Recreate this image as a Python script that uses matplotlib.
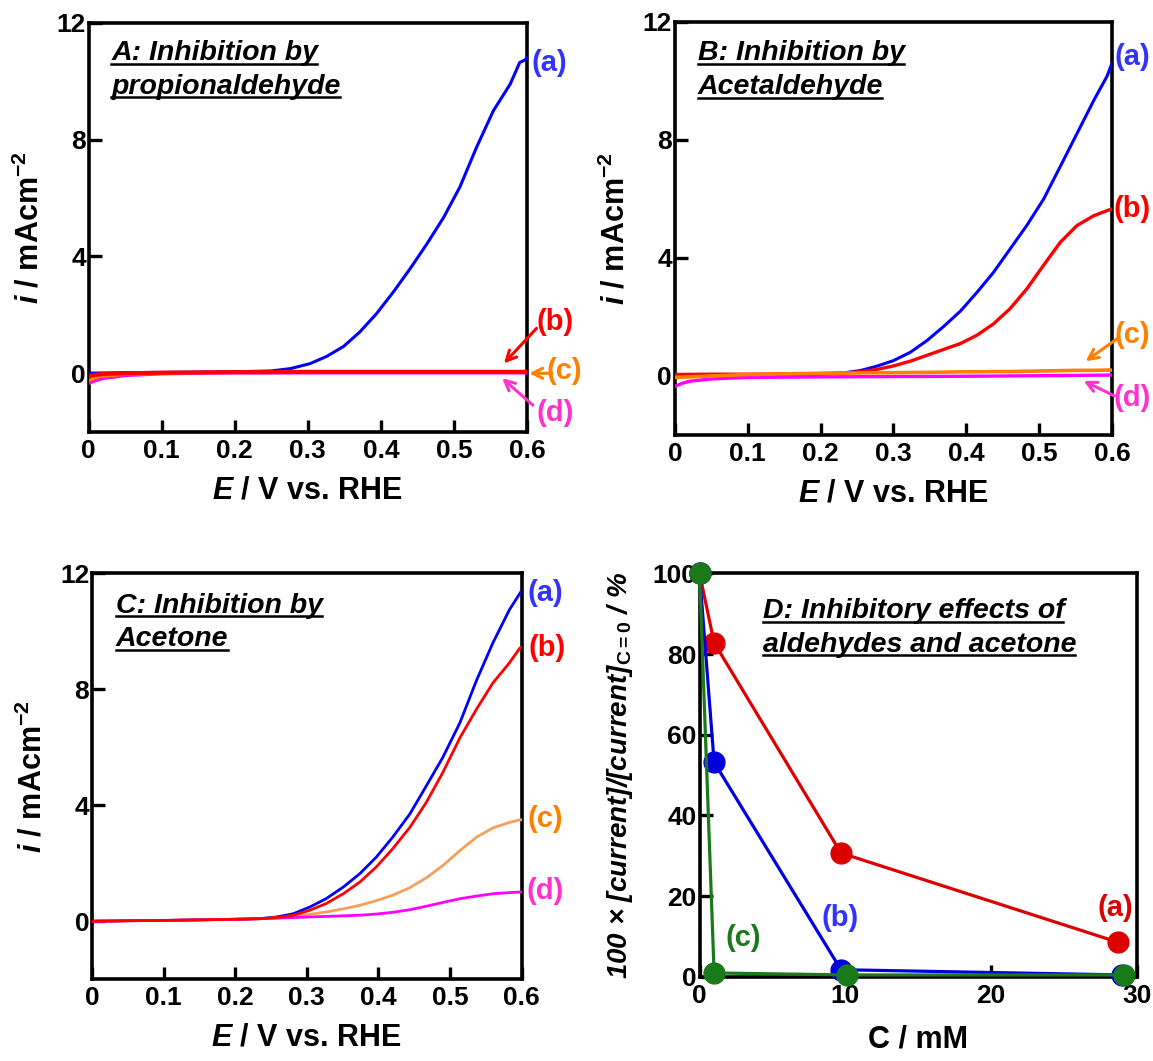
import matplotlib
matplotlib.use("Agg")
import matplotlib.pyplot as plt
from matplotlib.lines import Line2D

plt.rcParams['font.family'] = ['Liberation Sans', 'DejaVu Sans']
plt.rcParams['font.weight'] = 'bold'
plt.rcParams['axes.labelweight'] = 'bold'
plt.rcParams['mathtext.fontset'] = 'custom'
plt.rcParams['mathtext.rm'] = 'Liberation Sans:bold'
plt.rcParams['mathtext.it'] = 'Liberation Sans:italic:bold'
plt.rcParams['mathtext.bf'] = 'Liberation Sans:bold'

# ---------------- data ----------------
# Panel A: inhibition by propionaldehyde
E_flat = [0.0, 0.01, 0.02, 0.05, 0.1, 0.15, 0.2, 0.25, 0.3, 0.35, 0.4, 0.45, 0.5, 0.55, 0.6]
A_b = [-0.1, -0.05, -0.02, 0.0, 0.02, 0.03, 0.04, 0.04, 0.05, 0.05, 0.05, 0.05, 0.05, 0.05, 0.05]
A_c = [-0.25, -0.15, -0.1, -0.04, 0.0, 0.02, 0.03, 0.03, 0.04, 0.04, 0.04, 0.04, 0.04, 0.04, 0.04]
A_d = [-0.35, -0.25, -0.18, -0.08, -0.02, 0.0, 0.01, 0.01, 0.01, 0.01, 0.01, 0.01, 0.01, 0.01, 0.01]
E_A_a = [0.0, 0.05, 0.1, 0.15, 0.2, 0.25, 0.276, 0.303, 0.326, 0.349, 0.371, 0.394, 0.417,
         0.44, 0.463, 0.486, 0.508, 0.531, 0.554, 0.577, 0.59, 0.597, 0.6]
A_a = [0.0, 0.02, 0.03, 0.04, 0.05, 0.08, 0.16, 0.33, 0.58, 0.92, 1.41, 2.04, 2.78,
       3.58, 4.43, 5.34, 6.37, 7.74, 8.99, 9.9, 10.64, 10.72, 10.8]

# Panel B: inhibition by acetaldehyde
E_B = [0.0, 0.05, 0.1, 0.15, 0.2, 0.23, 0.254, 0.277, 0.3, 0.323, 0.346, 0.369, 0.392,
       0.4145, 0.437, 0.46, 0.483, 0.506, 0.529, 0.552, 0.575, 0.593, 0.6]
B_a = [0.0, 0.02, 0.03, 0.04, 0.06, 0.1, 0.18, 0.33, 0.52, 0.8, 1.2, 1.68, 2.2,
       2.83, 3.5, 4.3, 5.1, 5.99, 7.1, 8.22, 9.34, 10.15, 10.6]
B_b = [0.05, 0.06, 0.06, 0.07, 0.08, 0.1, 0.14, 0.22, 0.34, 0.5, 0.7, 0.9, 1.1,
       1.38, 1.76, 2.28, 2.95, 3.75, 4.53, 5.1, 5.43, 5.6, 5.66]
B_c = [-0.05, 0.0, 0.05, 0.07, 0.09, 0.1, 0.1, 0.11, 0.11, 0.12, 0.12, 0.13, 0.14,
       0.14, 0.15, 0.15, 0.16, 0.17, 0.18, 0.19, 0.19, 0.2, 0.2]
E_B_d = [0.0, 0.01, 0.02, 0.05, 0.1, 0.2, 0.3, 0.4, 0.5, 0.6]
B_d = [-0.35, -0.25, -0.18, -0.1, -0.05, -0.03, -0.02, -0.01, 0.01, 0.03]

# Panel C: inhibition by acetone
E_C = [0.0, 0.05, 0.1, 0.15, 0.2, 0.234, 0.258, 0.281, 0.304, 0.327, 0.351, 0.374, 0.397,
       0.42, 0.444, 0.467, 0.49, 0.514, 0.537, 0.56, 0.583, 0.598, 0.6]
C_a = [0.0, 0.02, 0.03, 0.05, 0.07, 0.09, 0.15, 0.26, 0.49, 0.78, 1.18, 1.64, 2.21,
       2.9, 3.7, 4.67, 5.65, 6.85, 8.3, 9.6, 10.74, 11.32, 11.4]
C_b = [0.0, 0.02, 0.03, 0.05, 0.07, 0.09, 0.13, 0.21, 0.38, 0.61, 0.95, 1.35, 1.87,
       2.5, 3.24, 4.1, 5.13, 6.33, 7.31, 8.22, 8.91, 9.43, 9.46]
C_c = [0.0, 0.02, 0.03, 0.05, 0.07, 0.09, 0.12, 0.17, 0.24, 0.32, 0.43, 0.55, 0.71,
       0.9, 1.16, 1.5, 1.92, 2.44, 2.9, 3.22, 3.41, 3.5, 3.5]
C_d = [0.0, 0.02, 0.03, 0.05, 0.07, 0.09, 0.11, 0.13, 0.15, 0.17, 0.19, 0.21, 0.25,
       0.31, 0.4, 0.52, 0.65, 0.78, 0.87, 0.95, 0.99, 1.01, 1.01]

# Panel D: inhibitory effects (a) acetone, (b) acetaldehyde, (c) propionaldehyde
D_a_C = [0, 1, 9.7, 28.7]
D_a_v = [100, 82.8, 30.7, 8.6]
D_b_C = [0, 1, 9.7, 29.0]
D_b_v = [100, 53.2, 1.8, 0.5]
D_c_C = [0, 1, 10.1, 29.1]
D_c_v = [100, 1.0, 0.5, 0.5]

x_ticks = [0, 0.1, 0.2, 0.3, 0.4, 0.5, 0.6]
x_ticklabels = ['0', '0.1', '0.2', '0.3', '0.4', '0.5', '0.6']
y_ticks = [0, 4, 8, 12]
D_x_ticks = [0, 10, 20, 30]
D_y_ticks = [0, 20, 40, 60, 80, 100]

BLUE = '#0000FF'
RED = '#FF0000'
ORANGE = '#FF8000'
ORANGE_C = '#F4A05A'
MAGENTA = '#FF00FF'
LBL_BLUE = '#3333FF'
LBL_PINK = '#FF33CC'
D_RED = '#DD0000'
D_BLUE = '#0000DD'
D_GREEN = '#1A7A1A'

fig = plt.figure(figsize=(11.53, 10.61), dpi=100)

axA = fig.add_axes([0.0768, 0.5931, 0.3803, 0.3855])
axB = fig.add_axes([0.5853, 0.5900, 0.3792, 0.3895])
axC = fig.add_axes([0.0798, 0.0770, 0.3725, 0.3826])
axD = fig.add_axes([0.6067, 0.0792, 0.3794, 0.3805])

TICKFS = 19
LABELFS = 22


def style(ax):
    for sp in ax.spines.values():
        sp.set_linewidth(2.6)
    ax.tick_params(direction='in', length=9, width=2.4, labelsize=TICKFS,
                   top=False, right=False)
    ax.tick_params(axis='y', pad=2)
    ax.tick_params(axis='x', pad=5)
    for lab in ax.get_xticklabels() + ax.get_yticklabels():
        lab.set_fontweight('bold')


def cv_axes(ax):
    ax.set_xlim(0, 0.6)
    ax.set_ylim(-2, 12)
    ax.set_xticks(x_ticks)
    ax.set_xticklabels(x_ticklabels)
    ax.set_yticks(y_ticks)
    ax.set_xlabel(r'$E$ / V vs. RHE', fontsize=LABELFS, labelpad=9)
    ax.set_ylabel(r'$i$ / mAcm$^{\mathrm{-2}}$', fontsize=LABELFS, labelpad=8)
    style(ax)


# Panel A
axA.plot(E_flat, A_d, color=MAGENTA, lw=2.2, zorder=3)
axA.plot(E_flat, A_c, color=ORANGE, lw=2.2, zorder=3)
axA.plot(E_A_a, A_a, color=BLUE, lw=2.2, zorder=3)
axA.plot(E_flat, A_b, color=RED, lw=3.0, zorder=4)
cv_axes(axA)

# Panel B
axB.plot(E_B, B_a, color=BLUE, lw=2.2, zorder=3)
axB.plot(E_B, B_b, color=RED, lw=2.4, zorder=3)
axB.plot(E_B_d, B_d, color=MAGENTA, lw=2.4, zorder=3)
axB.plot(E_B, B_c, color=ORANGE, lw=2.6, zorder=3)
cv_axes(axB)

# Panel C
axC.plot(E_C, C_a, color=BLUE, lw=2.0, zorder=3)
axC.plot(E_C, C_c, color=ORANGE_C, lw=2.0, zorder=3)
axC.plot(E_C, C_d, color=MAGENTA, lw=2.0, zorder=3)
axC.plot(E_C, C_b, color=RED, lw=2.0, zorder=3)
cv_axes(axC)

# Panel D
MS = 15
axD.plot(D_a_C, D_a_v, '-o', color=D_RED, lw=2.3, ms=MS, clip_on=False, zorder=5)
axD.plot(D_b_C, D_b_v, '-o', color=D_BLUE, lw=2.3, ms=MS, clip_on=False, zorder=6)
axD.plot(D_c_C, D_c_v, '-o', color=D_GREEN, lw=2.3, ms=MS, clip_on=False, zorder=7)
axD.set_xlim(0, 30)
axD.set_ylim(0, 100)
axD.set_xticks(D_x_ticks)
axD.set_yticks(D_y_ticks)
axD.set_xlabel('C / mM', fontsize=LABELFS, labelpad=12)
axD.set_ylabel(r'100 × [current]/[current]$_{\mathrm{C{=}0}}$ / %', fontsize=20,
               fontstyle='italic', labelpad=13)
style(axD)

# ---- curve labels ----
LFS = 21
kw = dict(fontsize=LFS, fontweight='bold', ha='center', va='center', clip_on=False)
axA.text(0.631, 10.63, '(a)', color=LBL_BLUE, **kw)
axA.text(0.638, 1.74, '(b)', color=RED, **kw)
axA.text(0.651, 0.07, '(c)', color=ORANGE, **kw)
axA.text(0.638, -1.37, '(d)', color=LBL_PINK, **kw)
ap = dict(arrowstyle='->', lw=2.2, mutation_scale=18, shrinkA=0, shrinkB=0)
axA.annotate('', xy=(0.5685, 0.34), xytext=(0.613, 1.54),
             arrowprops=dict(color=RED, **ap), annotation_clip=False)
axA.annotate('', xy=(0.603, 0.0), xytext=(0.634, 0.0),
             arrowprops=dict(color=ORANGE, **ap), annotation_clip=False)
axA.annotate('', xy=(0.566, -0.17), xytext=(0.608, -1.09),
             arrowprops=dict(color=LBL_PINK, **ap), annotation_clip=False)

axB.text(0.628, 10.8, '(a)', color=LBL_BLUE, **kw)
axB.text(0.628, 5.66, '(b)', color=RED, **kw)
axB.text(0.628, 1.38, '(c)', color=ORANGE, **kw)
axB.text(0.628, -0.74, '(d)', color=LBL_PINK, **kw)
axB.annotate('', xy=(0.5637, 0.5), xytext=(0.608, 1.28),
             arrowprops=dict(color=ORANGE, **ap), annotation_clip=False)
axB.annotate('', xy=(0.561, -0.17), xytext=(0.603, -0.67),
             arrowprops=dict(color=LBL_PINK, **ap), annotation_clip=False)

axC.text(0.633, 11.32, '(a)', color=LBL_BLUE, **kw)
axC.text(0.636, 9.42, '(b)', color=RED, **kw)
axC.text(0.633, 3.53, '(c)', color=ORANGE, **kw)
axC.text(0.633, 1.04, '(d)', color=LBL_PINK, **kw)

axD.text(28.5, 17.1, '(a)', color=D_RED, **kw)
axD.text(9.64, 14.6, '(b)', color=LBL_BLUE, **kw)
axD.text(3.02, 9.6, '(c)', color=D_GREEN, **kw)

# ---- panel titles (underlined) ----
TFS = 20.5
titles = [
    (axA, 0.052, [(0.9076, 'A: Inhibition by'), (0.8257, 'propionaldehyde')]),
    (axB, 0.052, [(0.907, 'B: Inhibition by'), (0.825, 'Acetaldehyde')]),
    (axC, 0.056, [(0.903, 'C: Inhibition by'), (0.8206, 'Acetone')]),
    (axD, 0.144, [(0.8885, 'D: Inhibitory effects of'), (0.806, 'aldehydes and acetone')]),
]
title_texts = []
for ax, x0, lines in titles:
    for yb, s in lines:
        t = ax.text(x0, yb, s, transform=ax.transAxes, fontsize=TFS,
                    fontweight='bold', fontstyle='italic', ha='left', va='baseline')
        title_texts.append((ax, x0, yb, t))

fig.canvas.draw()
renderer = fig.canvas.get_renderer()
inv = fig.transFigure.inverted()
for ax, x0, yb, t in title_texts:
    bb = t.get_window_extent(renderer)
    bx, by = ax.transAxes.transform((x0, yb))
    yline = by - 3.5
    p0 = inv.transform((bx, yline))
    p1 = inv.transform((bb.x1 - 1, yline))
    fig.add_artist(Line2D([p0[0], p1[0]], [p0[1], p1[1]], transform=fig.transFigure,
                          color='black', lw=1.8))

fig.savefig('out.png', dpi=100)
